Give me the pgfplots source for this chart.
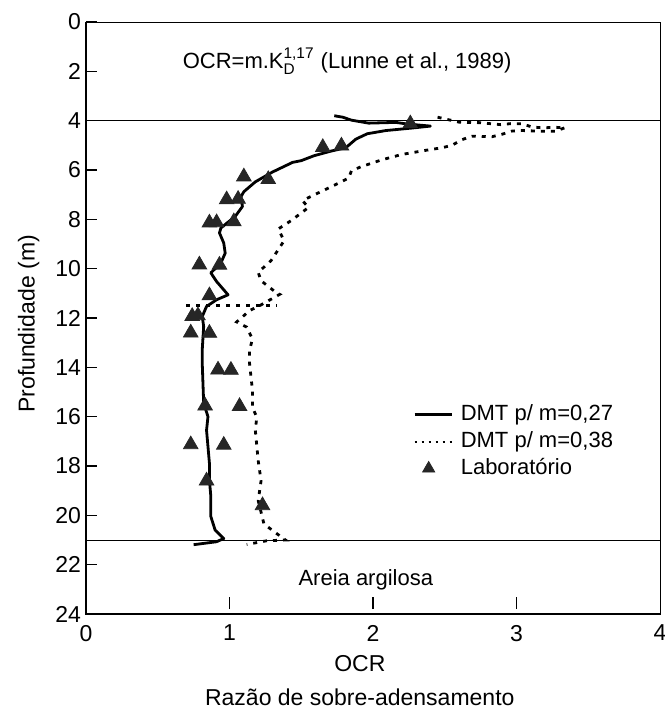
\documentclass[border=0pt]{standalone}
\usepackage{pgfplots}
\pgfplotsset{compat=1.18}
\usepackage{amsmath}
\usepackage{fontspec}
\setmainfont{Liberation Sans}
\usetikzlibrary{calc}

\pgfplotstableread{
x y
1.73 3.80
1.79 3.86
1.85 3.98
1.97 4.10
2.16 4.07
2.23 4.13
2.40 4.22
2.27 4.30
2.09 4.40
1.96 4.53
1.88 4.75
1.81 5.10
1.71 5.23
1.59 5.42
1.50 5.62
1.44 5.69
1.30 6.08
1.18 6.48
1.10 6.88
1.08 7.08
1.09 7.48
1.04 7.88
0.94 8.35
0.93 8.55
0.96 8.96
0.97 9.37
0.94 9.77
0.87 10.17
0.91 10.52
0.99 11.06
0.91 11.26
0.84 11.53
0.81 11.94
0.82 12.34
0.81 13.29
0.81 13.83
0.82 15.45
0.85 16.00
0.84 16.55
0.86 17.88
0.86 18.56
0.87 19.24
0.87 20.05
0.90 20.60
0.96 20.94
0.91 21.07
0.75 21.19
}\solid

\pgfplotstableread{
x y
2.45 3.86
2.60 4.06
2.74 4.08
2.89 4.16
2.96 4.12
3.04 4.13
3.11 4.26
3.19 4.29
3.26 4.27
3.34 4.28
3.27 4.43
3.18 4.43
3.04 4.40
2.97 4.42
2.90 4.55
2.83 4.65
2.69 4.63
2.62 4.77
2.55 5.00
2.48 5.10
2.40 5.17
2.34 5.23
2.20 5.37
2.06 5.59
1.92 5.86
1.85 6.03
1.83 6.33
1.69 6.73
1.55 7.12
1.51 7.25
1.55 7.52
1.43 8.05
1.34 8.39
1.38 8.87
1.29 9.67
1.20 10.15
1.22 10.49
1.31 10.90
1.35 11.04
1.21 11.50
1.14 11.70
1.05 12.16
1.12 12.37
1.16 12.85
1.14 13.30
1.14 13.85
1.16 14.94
1.16 15.62
1.19 16.02
1.18 16.56
1.20 17.78
1.22 18.60
1.20 19.40
1.24 20.35
1.32 20.70
1.39 21.00
1.26 21.03
1.12 21.18
}\dotted

\pgfplotstableread{
x y
0.70 11.48
1.33 11.48
}\dottedflat

\pgfplotstableread{
x y
2.26 4.12
1.65 5.08
1.78 5.02
1.10 6.27
1.27 6.38
0.98 7.20
1.06 7.18
0.86 8.14
0.91 8.13
1.03 8.09
0.79 9.84
0.93 9.85
0.86 11.09
0.74 11.93
0.78 11.90
0.73 12.60
0.86 12.61
0.92 14.10
1.01 14.11
0.83 15.56
1.07 15.58
0.73 17.13
0.96 17.15
0.84 18.60
1.23 19.60
}\lab

\begin{document}
\begin{tikzpicture}
\begin{axis}[
  name=ax,
  at={(0,0)}, anchor=south west,
  scale only axis,
  width=287pt, height=296pt,
  xmin=0, xmax=4, ymin=0, ymax=24,
  y dir=reverse,
  xtick={0,1,2,3,4},
  ytick={0,2,...,24},
  xtick pos=bottom, ytick pos=left,
  tick align=inside,
  major tick length=5.5pt,
  tick style={black, line width=0.6pt},
  x tick style={draw=none},
  axis line style={line width=0.5pt},
  /pgf/number format/assume math mode=true,
  tick label style={font=\fontsize{11.5}{13}\selectfont},
  yticklabel style={xshift=1pt},
  xticklabel style={yshift=-2pt},
  xlabel={OCR},
  ylabel={Profundidade (m)},
  label style={font=\fontsize{11.5}{13}\selectfont},
  xlabel style={at={(axis description cs:0.477,-0.083)}, anchor=center},
  ylabel style={at={(axis description cs:-0.1,0.49)}, anchor=center, rotate=0},
  legend style={draw=none, fill=none, inner sep=0pt, row sep=2.5pt,
    at={(axis cs:2.28,15.45)}, anchor=north west,
    font=\fontsize{11}{13}\selectfont,
    nodes={inner sep=0.5pt, text height=8pt, text depth=2pt, anchor=west},
    /tikz/every odd column/.append style={column sep=3.5pt}},
  legend cell align=left,
  clip=false,
]
\draw[line width=0.5pt] (axis cs:0,4) -- (axis cs:4,4);
\draw[line width=0.5pt] (axis cs:0,21) -- (axis cs:4,21);
\draw[line width=1.1pt] (axis cs:0,0) -- (axis cs:0,24) -- (axis cs:4,24);
\draw[line width=0.6pt] ([yshift=2.5pt]axis cs:1,24) -- ([yshift=8.5pt]axis cs:1,24);
\draw[line width=0.6pt] ([yshift=2.5pt]axis cs:2,24) -- ([yshift=8.5pt]axis cs:2,24);
\draw[line width=0.6pt] ([yshift=2.5pt]axis cs:3,24) -- ([yshift=8.5pt]axis cs:3,24);

\addplot[black, line width=1.4pt, line join=round,
  legend image code/.code={\draw[black, line width=1.1pt] (0pt,0pt) -- (18.5pt,0pt);}]
  table[x=x,y=y] {\solid};
\addlegendentry{DMT p/ m=0,27}

\addplot[black, line width=1.4pt, dash pattern=on 2pt off 3pt,
  legend image code/.code={\draw[black, line width=1pt, dash pattern=on 1pt off 2.5pt] (0pt,0pt) -- (18.5pt,0pt);}]
  table[x=x,y=y] {\dotted};
\addlegendentry{DMT p/ m=0,38}

\addplot[black, line width=1.4pt, dash pattern=on 2pt off 3pt, forget plot]
  table[x=x,y=y] {\dottedflat};

\addplot[only marks, mark=triangle*, mark size=4.2pt,
  mark options={fill=black!85, draw=black!85},
  legend image code/.code={\draw[fill=black!85, draw=black!85] plot[mark=triangle*, mark size=3.5pt] coordinates {(7pt,0pt)};}]
  table[x=x,y=y] {\lab};
\addlegendentry{Laboratório}

\node[font=\fontsize{11}{12}\selectfont] at (axis cs:1.82,1.6)
  {OCR=m.K$_{\text{D}}^{\text{1,17}}$ (Lunne et al., 1989)};
\node[font=\fontsize{11}{12}\selectfont] at (axis cs:1.95,22.6) {Areia argilosa};
\node[font=\fontsize{11.5}{13}\selectfont] at (axis description cs:0.477,-0.14)
  {Razão de sobre-adensamento};
\end{axis}
\pgfresetboundingbox
\path ($(ax.south west)+(-43pt,-48.5pt)$) rectangle ($(ax.north east)+(2pt,11pt)$);
\end{tikzpicture}
\end{document}
